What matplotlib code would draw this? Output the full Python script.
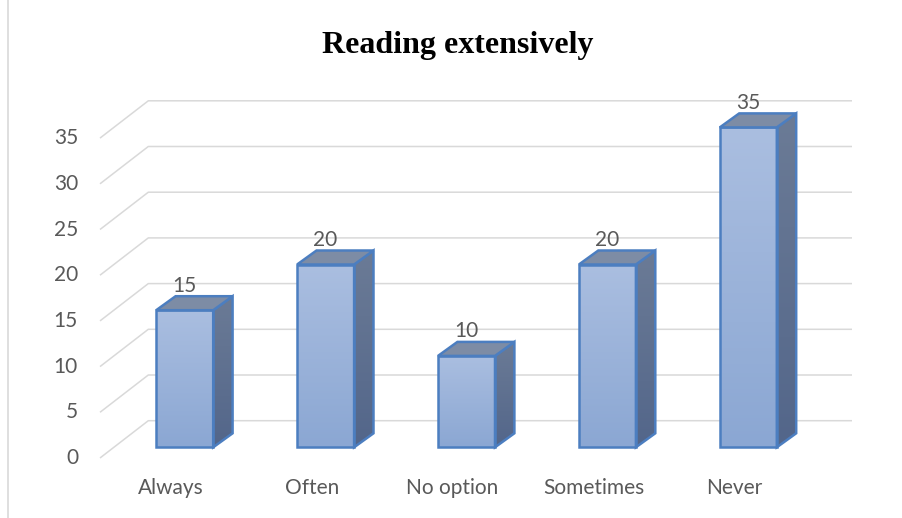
import numpy as np
import matplotlib.pyplot as plt
from matplotlib.patches import Polygon
from matplotlib.colors import LinearSegmentedColormap

# --- Data ---
categories = ["Always", "Often", "No option", "Sometimes", "Never"]
values = [15, 20, 10, 20, 35]
y_ticks = [0, 5, 10, 15, 20, 25, 30, 35]
title = "Reading extensively"

# --- Layout (pixel geometry of the Excel-style 3D box) ---
W, H = 902, 518
X0, XS = 184.7, 140.9        # px of first bar centre, px per category
Y0, YS = 447.3, 9.14         # px of value 0 (from top), px per unit
bar_w = 57 / XS
bar_dx, bar_dy = 19.4 / XS, 14 / YS          # depth of each bar
front_dx, front_dy = -13.9 / XS, -10.7 / YS  # floor front edge from bar plane
back_dx, back_dy = 34.4 / XS, 26.6 / YS      # back wall from bar plane
left_x = (113.9 - X0) / XS
right_x = (852 - X0) / XS - back_dx

grid_c = "#D9D9D9"
edge_c = "#4C7EC0"
text_c = "#595959"
fs = 15

fig = plt.figure(figsize=(W / 100, H / 100), dpi=100)
ax = fig.add_axes([0, 0, 1, 1])
ax.axis("off")

# gridlines: diagonal on the left side wall, then horizontal on the back wall
for v in y_ticks:
    xs = [left_x + front_dx, left_x + back_dx, right_x + back_dx]
    ys = [v + front_dy, v + back_dy, v + back_dy]
    ax.plot(xs, ys, color=grid_c, lw=1.1, zorder=1, solid_capstyle="butt")
    ax.text((78 - X0) / XS, v + front_dy, str(v), ha="right", va="center",
            fontsize=fs, family="Lato", color=text_c)

front_cmap = LinearSegmentedColormap.from_list("f", ["#8BA7D3", "#AABEE0"])
side_cmap = LinearSegmentedColormap.from_list("s", ["#53668A", "#6B7B96"])
grad = np.linspace(0, 1, 100).reshape(-1, 1)

x = np.arange(len(categories))
bars = ax.bar(x, values, width=bar_w, color="none", edgecolor=edge_c,
              linewidth=1.8, zorder=4)

for xi, v, b in zip(x, values, bars):
    l, r = xi - bar_w / 2, xi + bar_w / 2
    im = ax.imshow(grad, cmap=front_cmap, origin="lower", aspect="auto",
                   extent=(l, r, 0, v), zorder=3)
    im.set_clip_path(b)
    side = Polygon([(r, 0), (r + bar_dx, bar_dy), (r + bar_dx, v + bar_dy), (r, v)],
                   closed=True, facecolor="none", edgecolor=edge_c, lw=1.8, zorder=4)
    ax.add_patch(side)
    im2 = ax.imshow(grad, cmap=side_cmap, origin="lower", aspect="auto",
                    extent=(r, r + bar_dx, 0, v + bar_dy), zorder=3)
    im2.set_clip_path(side)
    top = Polygon([(l, v), (l + bar_dx, v + bar_dy), (r + bar_dx, v + bar_dy), (r, v)],
                  closed=True, facecolor="#7D8CA5", edgecolor=edge_c, lw=1.8, zorder=4)
    ax.add_patch(top)
    ax.text(xi, v + 2.7, str(v), ha="center", va="center", fontsize=fs,
            family="Lato", color=text_c, zorder=5)

for xi, c in zip(x, categories):
    ax.text(xi + front_dx, (Y0 - 488) / YS, c, ha="center", va="center",
            fontsize=fs, family="Lato", color=text_c)

ax.set_xlim(-X0 / XS, (W - X0) / XS)
ax.set_ylim((Y0 - H) / YS, Y0 / YS)

fig.text(458 / W, 1 - 45 / H, title, ha="center", va="center", fontsize=23,
         fontweight="bold", family="Liberation Serif", color="black")
fig.add_artist(plt.Line2D([8 / W, 8 / W], [0, 1], color="#D9D9D9", lw=1.2))

fig.savefig("out.png", dpi=100)
